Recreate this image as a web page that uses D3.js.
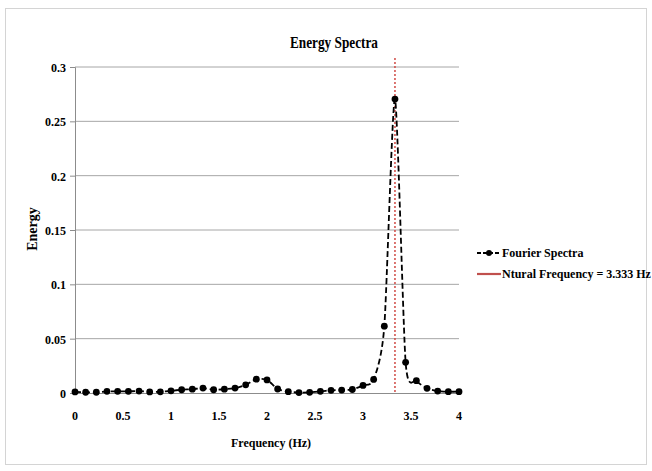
<!DOCTYPE html>
<html>
<head>
<meta charset="utf-8">
<script src="https://cdn.jsdelivr.net/npm/d3@7/dist/d3.min.js"></script>
<style>
  html, body { margin: 0; padding: 0; background: #fff; }
  svg text { font-family: "Liberation Serif", "Times New Roman", serif; font-weight: bold; fill: #000; }
</style>
</head>
<body>
<svg id="chart" width="652" height="471"></svg>
<script>
// Spectral samples (Hz) and energy at each
const frequency = [0, 0.111, 0.222, 0.333, 0.444, 0.556, 0.667, 0.778, 0.889,
  1.0, 1.111, 1.222, 1.333, 1.444, 1.556, 1.667, 1.778, 1.889,
  2.0, 2.111, 2.222, 2.333, 2.444, 2.556, 2.667, 2.778, 2.889,
  3.0, 3.111, 3.222, 3.333, 3.444, 3.556, 3.667, 3.778, 3.889, 4.0];
const energy = [0.0010, 0.0007, 0.0007, 0.0015, 0.0015, 0.0015, 0.0018, 0.0010, 0.0011,
  0.0020, 0.0030, 0.0035, 0.0045, 0.0030, 0.0035, 0.0045, 0.0075, 0.0127,
  0.0120, 0.0037, 0.0012, 0.0004, 0.0006, 0.0015, 0.0025, 0.0027, 0.0032,
  0.0070, 0.0125, 0.0615, 0.2705, 0.0282, 0.0113, 0.0043, 0.0018, 0.0012, 0.0012];
const naturalFrequency = 3.333;
const xTicks = [0, 0.5, 1, 1.5, 2, 2.5, 3, 3.5, 4];
const yTicks = [0, 0.05, 0.1, 0.15, 0.2, 0.25, 0.3];
const seriesNames = ["Fourier Spectra", "Ntural Frequency = 3.333 Hz"];

const svg = d3.select("#chart");

function label(sel, x, y, txt, size, anchor, sx) {
  const g = sel.append("g").attr("transform", `translate(${x},${y}) scale(${sx || 1},1)`);
  g.append("text").attr("text-anchor", anchor || "middle")
    .attr("font-size", size).text(txt);
  return g;
}

// outer frame
svg.append("rect").attr("x", 5.5).attr("y", 8.5).attr("width", 641).attr("height", 456)
  .attr("fill", "none").attr("stroke", "#d4d4d4").attr("stroke-width", 1);

const plot = { left: 75, right: 459, top: 67, bottom: 393 };
const x = d3.scaleLinear().domain([0, 4]).range([plot.left, plot.right]);
const y = d3.scaleLinear().domain([0, 0.3]).range([plot.bottom, plot.top]);

// gridlines
svg.append("g").selectAll("line").data(yTicks.filter(v => v > 0)).join("line")
  .attr("x1", plot.left).attr("x2", plot.right)
  .attr("y1", d => y(d)).attr("y2", d => y(d))
  .attr("stroke", "#a6a6a6").attr("stroke-width", 1);

// axes
const yAxis = svg.append("g").attr("transform", `translate(${plot.left},0)`)
  .call(d3.axisLeft(y).tickValues(yTicks).tickSize(5).tickFormat(() => ""));
const xAxis = svg.append("g").attr("transform", `translate(0,${plot.bottom})`)
  .call(d3.axisBottom(x).tickValues(xTicks).tickSize(0).tickFormat(() => ""));
[yAxis, xAxis].forEach(a => {
  a.select(".domain").attr("stroke", "#8c8c8c");
  a.selectAll(".tick line").attr("stroke", "#8c8c8c");
});

yTicks.forEach(v => label(svg, 66, y(v) + 5, d3.format("")(v), 12, "end"));
xTicks.forEach(v => label(svg, x(v), 420, d3.format("")(v), 12, "middle"));

// titles
label(svg, 334, 48, "Energy Spectra", 17, "middle", 0.78);
label(svg, 271, 447, "Frequency (Hz)", 12, "middle");
svg.append("g").attr("transform", `translate(37,229) rotate(-90)`)
  .append("text").attr("text-anchor", "middle").attr("font-size", 14).text("Energy");

// natural frequency marker
svg.append("line")
  .attr("x1", x(naturalFrequency)).attr("x2", x(naturalFrequency))
  .attr("y1", 58).attr("y2", plot.bottom)
  .attr("stroke", "#d04a45").attr("stroke-width", 1.5).attr("stroke-dasharray", "2,2");

// spectrum curve
const pts = frequency.map((f, i) => [f, energy[i]]);
const line = d3.line().x(d => x(d[0])).y(d => y(d[1])).curve(d3.curveCardinal.tension(0.3));
svg.append("path").datum(pts).attr("d", line)
  .attr("fill", "none").attr("stroke", "#000").attr("stroke-width", 1.8)
  .attr("stroke-dasharray", "6,3");
svg.append("g").selectAll("circle").data(pts).join("circle")
  .attr("cx", d => x(d[0])).attr("cy", d => y(d[1])).attr("r", 3.4).attr("fill", "#000");

// legend
const lg = svg.append("g");
lg.append("line").attr("x1", 477).attr("x2", 501).attr("y1", 253).attr("y2", 253)
  .attr("stroke", "#000").attr("stroke-width", 1.8).attr("stroke-dasharray", "4,2");
lg.append("circle").attr("cx", 489).attr("cy", 253).attr("r", 3).attr("fill", "#000");
label(lg, 502, 257, seriesNames[0], 12, "start");
lg.append("line").attr("x1", 477).attr("x2", 501).attr("y1", 274).attr("y2", 274)
  .attr("stroke", "#c0504d").attr("stroke-width", 2.2);
label(lg, 502, 278, seriesNames[1], 12, "start");
</script>
</body>
</html>
